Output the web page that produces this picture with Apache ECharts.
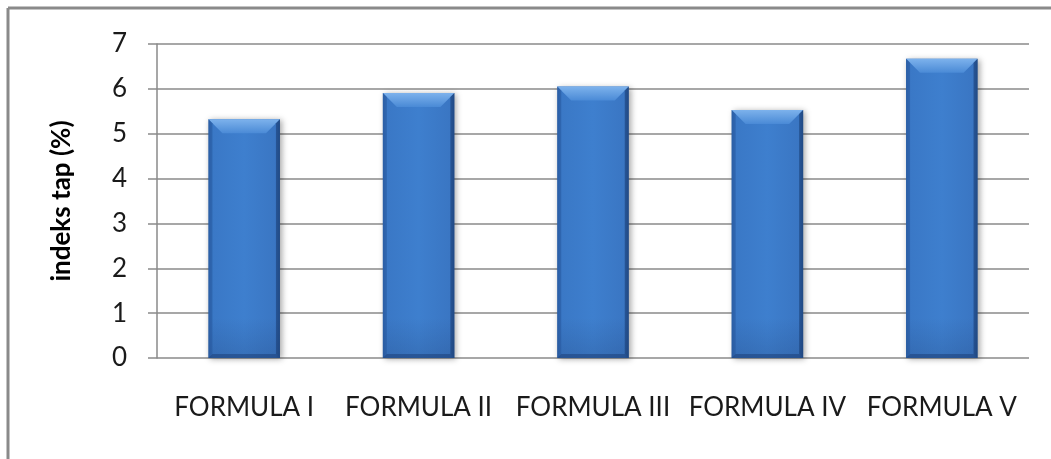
<!DOCTYPE html>
<html>
<head>
<meta charset="utf-8">
<script src="https://cdn.jsdelivr.net/npm/echarts@6/dist/echarts.min.js"></script>
<style>
html,body{margin:0;padding:0;background:#fff;}
#chart{width:1051px;height:459px;}
</style>
</head>
<body>
<div id="chart"></div>
<script>
const categories = ['FORMULA I', 'FORMULA II', 'FORMULA III', 'FORMULA IV', 'FORMULA V'];
const values = [5.32, 5.91, 6.05, 5.53, 6.67];
const yTicks = [0, 1, 2, 3, 4, 5, 6, 7];
const yAxisName = 'indeks tap (%)';

const chart = echarts.init(document.getElementById('chart'));
const FONT = 'Lato';

function renderBar(params, api) {
  const cat = api.value(0);
  const val = api.value(1);
  const top = api.coord([cat, val]);
  const base = api.coord([cat, 0]);
  const w = api.size([1, 0])[0] * 0.41;
  const x0 = top[0] - w / 2, x1 = top[0] + w / 2;
  const y0 = top[1], y1 = base[1];
  const b = 14;
  const s = 4;
  return {
    type: 'group',
    children: [
      {
        type: 'rect',
        shape: { x: x0, y: y0, width: w, height: y1 - y0 },
        style: {
          fill: new echarts.graphic.LinearGradient(0, 0, 1, 0, [
            { offset: 0, color: '#2f66ad' },
            { offset: 0.06, color: '#3a78c6' },
            { offset: 0.5, color: '#3e7fce' },
            { offset: 0.94, color: '#3a76c3' },
            { offset: 1, color: '#2a5b9c' }
          ]),
          shadowColor: 'rgba(0,0,0,0.35)',
          shadowBlur: 6,
          shadowOffsetX: 2,
          shadowOffsetY: 1
        }
      },
      {
        type: 'rect',
        shape: { x: x0, y: y1 - 40, width: w, height: 40 },
        style: {
          fill: new echarts.graphic.LinearGradient(0, 0, 0, 1, [
            { offset: 0, color: 'rgba(30,60,110,0)' },
            { offset: 1, color: 'rgba(30,60,110,0.22)' }
          ])
        }
      },
      {
        type: 'polygon',
        shape: { points: [[x0, y0], [x1, y0], [x1 - b, y0 + b], [x0 + b, y0 + b]] },
        style: {
          fill: new echarts.graphic.LinearGradient(0, 0, 0, 1, [
            { offset: 0, color: '#7db2ec' },
            { offset: 1, color: '#4a8ad6' }
          ])
        }
      },
      {
        type: 'polygon',
        shape: { points: [[x0, y0], [x0 + s, y0 + s], [x0 + s, y1 - s], [x0, y1]] },
        style: { fill: 'rgba(40,90,160,0.55)' }
      },
      {
        type: 'polygon',
        shape: { points: [[x1, y0], [x1 - s, y0 + s], [x1 - s, y1 - s], [x1, y1]] },
        style: { fill: 'rgba(25,60,115,0.55)' }
      },
      {
        type: 'polygon',
        shape: { points: [[x0, y1], [x0 + s, y1 - s], [x1 - s, y1 - s], [x1, y1]] },
        style: { fill: 'rgba(25,60,115,0.5)' }
      }
    ]
  };
}

chart.setOption({
  animation: false,
  backgroundColor: '#ffffff',
  graphic: [
    { type: 'line', shape: { x1: 8, y1: 8, x2: 1051, y2: 8 }, style: { stroke: '#8a8a8a', lineWidth: 3 } },
    { type: 'line', shape: { x1: 8, y1: 8, x2: 8, y2: 459 }, style: { stroke: '#8a8a8a', lineWidth: 3 } }
  ],
  grid: { left: 157, right: 22, top: 44, bottom: 101, containLabel: false },
  xAxis: {
    type: 'category',
    data: categories,
    axisLine: { show: false },
    axisTick: { show: false },
    axisLabel: { color: '#1a1a1a', fontFamily: FONT, fontSize: 26, margin: 37, interval: 0 }
  },
  yAxis: {
    type: 'value',
    min: yTicks[0],
    max: yTicks[yTicks.length - 1],
    interval: 1,
    name: yAxisName,
    nameLocation: 'middle',
    nameRotate: 90,
    nameGap: 82,
    nameTextStyle: { color: '#000', fontFamily: FONT, fontSize: 26, fontWeight: 'bold' },
    axisLine: { show: true, lineStyle: { color: '#8a8a8a', width: 1.5 } },
    axisTick: { show: true, length: 9, lineStyle: { color: '#8a8a8a', width: 1.5 } },
    axisLabel: { color: '#1a1a1a', fontFamily: FONT, fontSize: 26, margin: 30 },
    splitLine: { show: true, lineStyle: { color: '#8a8a8a', width: 1.5 } }
  },
  series: [{
    type: 'custom',
    renderItem: renderBar,
    encode: { x: 0, y: 1 },
    data: categories.map((c, i) => [i, values[i]])
  }]
});
</script>
</body>
</html>
